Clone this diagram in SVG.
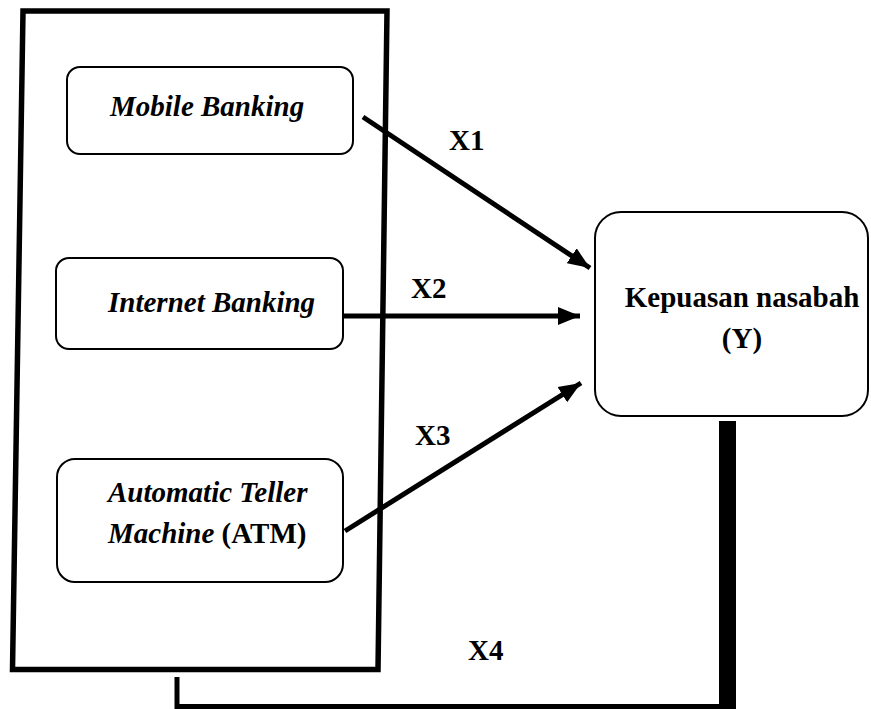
<svg xmlns="http://www.w3.org/2000/svg" width="871" height="709" viewBox="0 0 871 709">
<defs>
<style>
.box{fill:#fff;stroke:#000;stroke-width:2}
.t{font-family:'Liberation Serif',Tinos,'Times New Roman',Times,'DejaVu Serif',serif;font-weight:700;font-size:29px;fill:#000}
.i{font-style:italic}
.c{stroke:#000;stroke-width:5;fill:none}
</style>
<marker id="ah" markerUnits="userSpaceOnUse" markerWidth="24" markerHeight="20" refX="22" refY="10" orient="auto">
<path d="M0,1 L22,10 L0,19 Z" fill="#000"/>
</marker>
</defs>
<rect width="871" height="709" fill="#fff"/>
<g id="frame">
<path d="M23,11 L387,11 L378,669.5 L12.5,669.5 Z" fill="none" stroke="#000" stroke-width="5.5" stroke-linejoin="miter"/>
</g>
<g id="connectors">
<line class="c" x1="363" y1="117" x2="590" y2="268" marker-end="url(#ah)"/>
<line class="c" x1="343" y1="316" x2="580" y2="316" marker-end="url(#ah)"/>
<line class="c" x1="345" y1="531" x2="581" y2="383" marker-end="url(#ah)"/>
<rect x="719" y="421" width="17" height="288" fill="#000"/>
<polyline points="177,677 177,706.5 736,706.5" fill="none" stroke="#000" stroke-width="5"/>
<text class="t" x="449" y="150">X1</text>
<text class="t" x="411" y="298">X2</text>
<text class="t" x="415" y="445">X3</text>
<text class="t" x="468" y="660">X4</text>
</g>
<g id="mobile">
<rect class="box" x="67" y="67" width="286" height="87" rx="13"/>
<text class="t i" x="110" y="116" font-family="Liberation Serif, serif">Mobile Banking</text>
</g>
<g id="internet">
<rect class="box" x="56" y="258" width="287" height="91" rx="13"/>
<text class="t i" x="108" y="312">Internet Banking</text>
</g>
<g id="atm">
<rect class="box" x="57" y="459" width="286" height="123" rx="18"/>
<text class="t" x="108" y="502"><tspan class="i">Automatic Teller</tspan></text>
<text class="t" x="108" y="543"><tspan class="i">Machine</tspan> (ATM)</text>
</g>
<g id="kepuasan">
<rect class="box" x="595" y="212" width="273" height="204" rx="26"/>
<text class="t" x="742" y="307" text-anchor="middle">Kepuasan nasabah</text>
<text class="t" x="742" y="348" text-anchor="middle">(Y)</text>
</g>
</svg>
